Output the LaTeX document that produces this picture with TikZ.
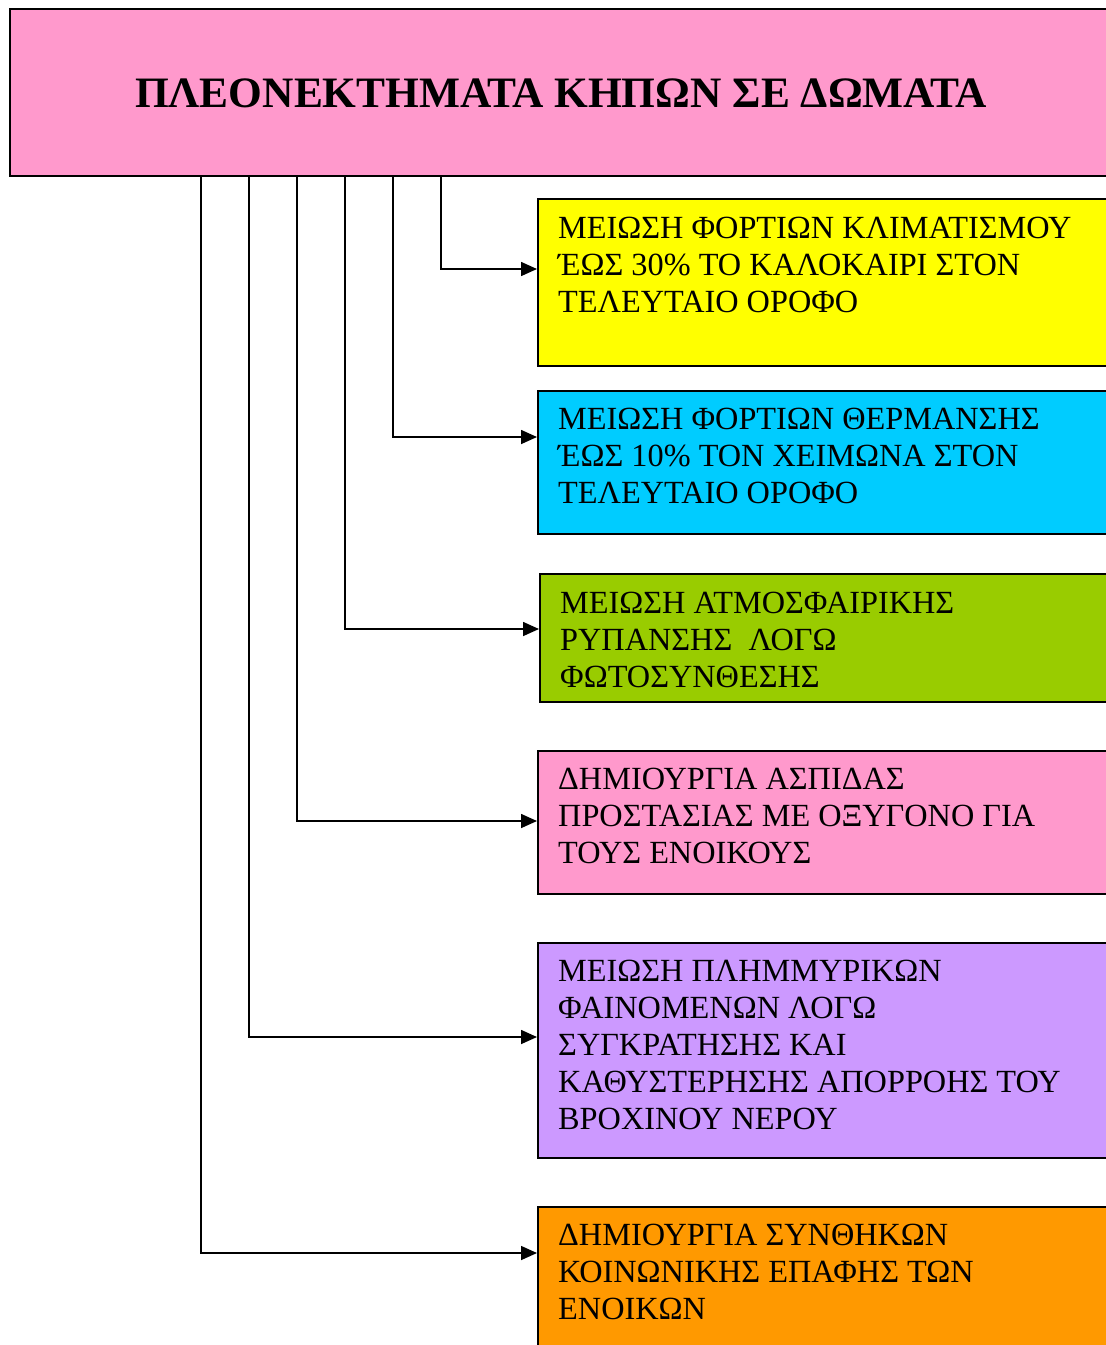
\documentclass[tikz,border=0pt]{standalone}
\usepackage{fontspec}
\setmainfont{Liberation Serif}
\usetikzlibrary{arrows.meta}
\definecolor{titlepink}{HTML}{FF99CC}
\definecolor{boxyellow}{HTML}{FFFF00}
\definecolor{boxcyan}{HTML}{00CCFF}
\definecolor{boxgreen}{HTML}{99CC00}
\definecolor{boxpink}{HTML}{FF99CC}
\definecolor{boxpurple}{HTML}{CC99FF}
\definecolor{boxorange}{HTML}{FF9900}
\newcommand\firstline{\rule{0pt}{30pt}}
\begin{document}
\begin{tikzpicture}[x=1pt,y=-1pt,
  panel/.style={draw=black, line width=1.6pt, rectangle, anchor=north west, inner sep=0pt},
  txt/.style={anchor=north west, inner sep=0pt, align=left,
    font=\fontsize{32.3}{37}\selectfont},
  link/.style={draw=black, line width=1.6pt, -{Triangle[length=16pt,width=14pt]}}]
\useasboundingbox (0,0) rectangle (1106,1345);

% heading
\node[panel, fill=titlepink, minimum width=1120pt, minimum height=167pt] (title) at (9,8) {};
\node[font=\fontsize{43.4}{50}\selectfont\bfseries] (heading) at (561,93) {ΠΛΕΟΝΕΚΤΗΜΑΤΑ ΚΗΠΩΝ ΣΕ ΔΩΜΑΤΑ};

% benefit boxes
\node[panel, fill=boxyellow, minimum width=590pt, minimum height=167pt] (b1) at (537,198) {};
\node[panel, fill=boxcyan,   minimum width=590pt, minimum height=143pt] (b2) at (537,390) {};
\node[panel, fill=boxgreen,  minimum width=590pt, minimum height=128pt] (b3) at (539,573) {};
\node[panel, fill=boxpink,   minimum width=590pt, minimum height=143pt] (b4) at (537,750) {};
\node[panel, fill=boxpurple, minimum width=590pt, minimum height=215pt] (b5) at (537,942) {};
\node[panel, fill=boxorange, minimum width=590pt, minimum height=160pt] (b6) at (537,1206) {};

\node[txt] (t1) at (558,208) {\firstline ΜΕΙΩΣΗ ΦΟΡΤΙΩΝ ΚΛΙΜΑΤΙΣΜΟΥ\\ΈΩΣ 30\% ΤΟ ΚΑΛΟΚΑΙΡΙ ΣΤΟΝ\\ΤΕΛΕΥΤΑΙΟ ΟΡΟΦΟ};
\node[txt] (t2) at (558,399) {\firstline ΜΕΙΩΣΗ ΦΟΡΤΙΩΝ ΘΕΡΜΑΝΣΗΣ\\ΈΩΣ 10\% ΤΟΝ ΧΕΙΜΩΝΑ ΣΤΟΝ\\ΤΕΛΕΥΤΑΙΟ ΟΡΟΦΟ};
\node[txt] (t3) at (560,583) {\firstline ΜΕΙΩΣΗ ΑΤΜΟΣΦΑΙΡΙΚΗΣ\\ΡΥΠΑΝΣΗΣ \ ΛΟΓΩ\\ΦΩΤΟΣΥΝΘΕΣΗΣ};
\node[txt] (t4) at (558,759) {\firstline ΔΗΜΙΟΥΡΓΙΑ ΑΣΠΙΔΑΣ\\ΠΡΟΣΤΑΣΙΑΣ ΜΕ ΟΞΥΓΟΝΟ ΓΙΑ\\ΤΟΥΣ ΕΝΟΙΚΟΥΣ};
\node[txt] (t5) at (558,951) {\firstline ΜΕΙΩΣΗ ΠΛΗΜΜΥΡΙΚΩΝ\\ΦΑΙΝΟΜΕΝΩΝ ΛΟΓΩ\\ΣΥΓΚΡΑΤΗΣΗΣ ΚΑΙ\\ΚΑΘΥΣΤΕΡΗΣΗΣ ΑΠΟΡΡΟΗΣ ΤΟΥ\\ΒΡΟΧΙΝΟΥ ΝΕΡΟΥ};
\node[txt] (t6) at (558,1215) {\firstline ΔΗΜΙΟΥΡΓΙΑ ΣΥΝΘΗΚΩΝ\\ΚΟΙΝΩΝΙΚΗΣ ΕΠΑΦΗΣ ΤΩΝ\\ΕΝΟΙΚΩΝ};

% connectors from the heading to each box
\draw[link] ([xshift=432pt]title.south west) |- ([yshift=-71pt]b1.north west);
\draw[link] ([xshift=384pt]title.south west) |- ([yshift=-47pt]b2.north west);
\draw[link] ([xshift=336pt]title.south west) |- ([yshift=-56pt]b3.north west);
\draw[link] ([xshift=288pt]title.south west) |- ([yshift=-71pt]b4.north west);
\draw[link] ([xshift=240pt]title.south west) |- ([yshift=-95pt]b5.north west);
\draw[link] ([xshift=192pt]title.south west) |- ([yshift=-47pt]b6.north west);
\end{tikzpicture}
\end{document}
